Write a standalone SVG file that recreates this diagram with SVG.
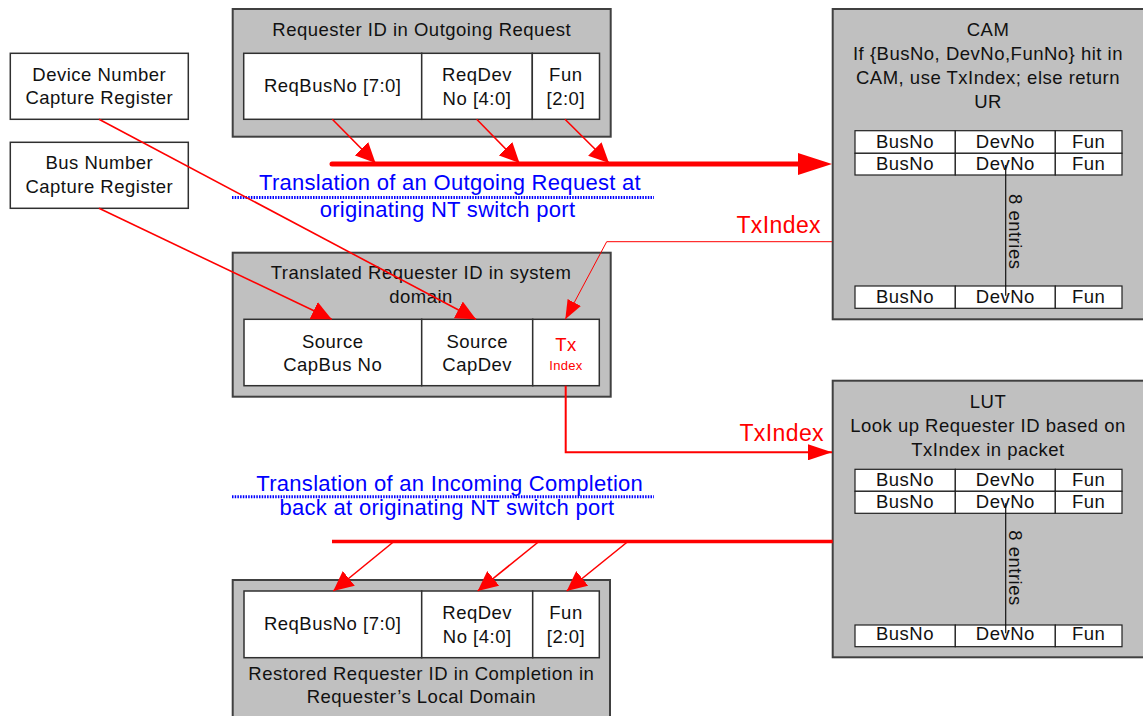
<svg xmlns="http://www.w3.org/2000/svg" width="1143" height="716" viewBox="0 0 1143 716">
  <style>
    text { font-family: "Liberation Sans", Arial, sans-serif; font-size: 18.5px; letter-spacing: 0.5px; fill: #111111; text-anchor: middle; }
    .panel { fill: #c0c0c0; stroke: #404040; stroke-width: 2; }
    .cell { fill: #ffffff; stroke: #303030; stroke-width: 1.5; }
    .row { fill: #ffffff; stroke: #202020; stroke-width: 1.2; }
    .span { stroke: #111111; stroke-width: 1.2; }
    .blue { fill: #0000ff; font-size: 22px; letter-spacing: 0.3px; }
    .tx { fill: #ff0000; }
    .lbl { fill: #ff0000; font-size: 23px; letter-spacing: 0.4px; text-anchor: end; }
    .wire { fill: none; stroke: #ff0000; stroke-width: 1.6; }
    .dots { stroke: #0000ff; stroke-width: 3; stroke-dasharray: 1.5 1.2; }
  </style>
  <defs>
    <marker id="headBig" markerUnits="userSpaceOnUse" markerWidth="34" markerHeight="22" refX="0" refY="11" orient="auto">
      <path d="M0,0 L34,11 L0,22 Z" fill="#ff0000"/>
    </marker>
    <marker id="head" markerUnits="userSpaceOnUse" markerWidth="20" markerHeight="19" refX="20" refY="9.5" orient="auto">
      <path d="M0,0 L20,9.5 L0,19 Z" fill="#ff0000"/>
    </marker>
    <marker id="headTx" markerUnits="userSpaceOnUse" markerWidth="24" markerHeight="16" refX="24" refY="8" orient="auto">
      <path d="M0,0 L24,8 L0,16 Z" fill="#ff0000"/>
    </marker>
    <marker id="headThin" markerUnits="userSpaceOnUse" markerWidth="19" markerHeight="15" refX="19" refY="7.5" orient="auto">
      <path d="M0,0 L19,7.5 L0,15 Z" fill="#ff0000"/>
    </marker>
  </defs>

  <!-- capture registers -->
  <g id="dev-capture-reg">
    <rect class="cell" x="10.3" y="53.3" width="178" height="66"/>
    <text x="99.3" y="80.7">Device Number</text>
    <text x="99.3" y="104.3">Capture Register</text>
  </g>
  <g id="bus-capture-reg">
    <rect class="cell" x="10.3" y="142.3" width="178" height="66"/>
    <text x="99.3" y="169.3">Bus Number</text>
    <text x="99.3" y="192.7">Capture Register</text>
  </g>

  <!-- outgoing request ID -->
  <g id="outgoing-req">
    <rect class="panel" x="232.7" y="9" width="378" height="127.7"/>
    <text x="421.7" y="36">Requester ID in Outgoing Request</text>
    <rect class="cell" x="243.7" y="53.3" width="178" height="66"/>
    <rect class="cell" x="421.7" y="53.3" width="110.6" height="66"/>
    <rect class="cell" x="532.3" y="53.3" width="67.2" height="66"/>
    <text x="332.7" y="92">ReqBusNo [7:0]</text>
    <text x="477" y="81">ReqDev</text>
    <text x="477" y="104.5">No [4:0]</text>
    <text x="565.8" y="81">Fun</text>
    <text x="565.8" y="104.5">[2:0]</text>
  </g>

  <!-- translated ID -->
  <g id="translated-req">
    <rect class="panel" x="232.7" y="252.7" width="378" height="144"/>
    <text x="421" y="279.3">Translated Requester ID in system</text>
    <text x="421" y="302.7">domain</text>
    <rect class="cell" x="244" y="319.3" width="177.7" height="66.4"/>
    <rect class="cell" x="421.7" y="319.3" width="111" height="66.4"/>
    <rect class="cell" x="532.7" y="319.3" width="66.6" height="66.4"/>
    <text x="332.7" y="348.3">Source</text>
    <text x="332.7" y="371">CapBus No</text>
    <text x="477.2" y="348.3">Source</text>
    <text x="477.2" y="371">CapDev</text>
    <text class="tx" x="566" y="351">Tx</text>
    <text class="tx" x="566" y="370" style="font-size:13px;letter-spacing:0.3px">Index</text>
  </g>

  <!-- restored ID -->
  <g id="restored-req">
    <rect class="panel" x="232.7" y="580" width="377.3" height="145"/>
    <rect class="cell" x="244" y="591" width="177.7" height="66.7"/>
    <rect class="cell" x="421.7" y="591" width="111" height="66.7"/>
    <rect class="cell" x="532.7" y="591" width="66.6" height="66.7"/>
    <text x="332.7" y="630">ReqBusNo [7:0]</text>
    <text x="477.2" y="619.3">ReqDev</text>
    <text x="477.2" y="643.3">No [4:0]</text>
    <text x="566" y="619.3">Fun</text>
    <text x="566" y="643.3">[2:0]</text>
    <text x="421.3" y="680">Restored Requester ID in Completion in</text>
    <text x="421.3" y="702.7">Requester’s Local Domain</text>
  </g>

  <!-- CAM -->
  <g id="cam">
    <rect class="panel" x="832.7" y="9" width="320" height="310.3"/>
    <text x="988" y="36">CAM</text>
    <text x="988" y="60">If {BusNo, DevNo,FunNo} hit in</text>
    <text x="988" y="84">CAM, use TxIndex; else return</text>
    <text x="988" y="107.5">UR</text>
    <rect class="row" x="855" y="130.7" width="100.3" height="22.6"/>
    <rect class="row" x="955.3" y="130.7" width="100" height="22.6"/>
    <rect class="row" x="1055.3" y="130.7" width="66.7" height="22.6"/>
    <rect class="row" x="855" y="153.3" width="100.3" height="21.7"/>
    <rect class="row" x="955.3" y="153.3" width="100" height="21.7"/>
    <rect class="row" x="1055.3" y="153.3" width="66.7" height="21.7"/>
    <rect class="row" x="855" y="286" width="100.3" height="22.3"/>
    <rect class="row" x="955.3" y="286" width="100" height="22.3"/>
    <rect class="row" x="1055.3" y="286" width="66.7" height="22.3"/>
    <text x="905" y="148.3">BusNo</text>
    <text x="1005.3" y="148.3">DevNo</text>
    <text x="1088.6" y="148.3">Fun</text>
    <text x="905" y="170">BusNo</text>
    <text x="1005.3" y="170">DevNo</text>
    <text x="1088.6" y="170">Fun</text>
    <text x="905" y="302.7">BusNo</text>
    <text x="1005.3" y="302.7">DevNo</text>
    <text x="1088.6" y="302.7">Fun</text>
    <line class="span" x1="1005.7" y1="165" x2="1005.7" y2="295.7"/>
    <text transform="translate(1008.5,231.7) rotate(90)">8 entries</text>
  </g>

  <!-- LUT -->
  <g id="lut">
    <rect class="panel" x="832.7" y="380.7" width="320" height="276.6"/>
    <text x="988" y="408.3">LUT</text>
    <text x="988" y="432">Look up Requester ID based on</text>
    <text x="988" y="456">TxIndex in packet</text>
    <rect class="row" x="855" y="469.3" width="100.3" height="22"/>
    <rect class="row" x="955.3" y="469.3" width="100" height="22"/>
    <rect class="row" x="1055.3" y="469.3" width="66.7" height="22"/>
    <rect class="row" x="855" y="491.3" width="100.3" height="22"/>
    <rect class="row" x="955.3" y="491.3" width="100" height="22"/>
    <rect class="row" x="1055.3" y="491.3" width="66.7" height="22"/>
    <rect class="row" x="855" y="625" width="100.3" height="21.7"/>
    <rect class="row" x="955.3" y="625" width="100" height="21.7"/>
    <rect class="row" x="1055.3" y="625" width="66.7" height="21.7"/>
    <text x="905" y="486">BusNo</text>
    <text x="1005.3" y="486">DevNo</text>
    <text x="1088.6" y="486">Fun</text>
    <text x="905" y="508">BusNo</text>
    <text x="1005.3" y="508">DevNo</text>
    <text x="1088.6" y="508">Fun</text>
    <text x="905" y="640">BusNo</text>
    <text x="1005.3" y="640">DevNo</text>
    <text x="1088.6" y="640">Fun</text>
    <line class="span" x1="1005.7" y1="503.3" x2="1005.7" y2="633.3"/>
    <text transform="translate(1008.5,568) rotate(90)">8 entries</text>
  </g>

  <!-- captions -->
  <g id="caption-outgoing">
    <text class="blue" x="450" y="190">Translation of an Outgoing Request at</text>
    <line class="dots" x1="232" y1="197.5" x2="654" y2="197.5"/>
    <text class="blue" x="447.5" y="217">originating NT switch port</text>
  </g>
  <g id="caption-incoming">
    <text class="blue" x="449.7" y="490.5">Translation of an Incoming Completion</text>
    <line class="dots" x1="232" y1="496.7" x2="654" y2="496.7"/>
    <text class="blue" x="447" y="515">back at originating NT switch port</text>
  </g>

  <!-- connectors -->
  <g id="connectors">
    <path d="M332,164 L798,164" fill="none" stroke="#ff0000" stroke-width="5" stroke-linecap="round" marker-end="url(#headBig)"/>
    <path class="wire" d="M332.3,119.3 L375.5,163" marker-end="url(#head)"/>
    <path class="wire" d="M476.7,119.3 L519.5,163" marker-end="url(#head)"/>
    <path class="wire" d="M565,119.3 L609,163" marker-end="url(#head)"/>

    <path class="wire" d="M99,119.3 L476,319.3" marker-end="url(#head)"/>
    <path class="wire" d="M99,208.3 L331.7,319.3" marker-end="url(#head)"/>

    <path d="M832,241.7 L606.7,241.7 L565.3,319.3" fill="none" stroke="#ff0000" stroke-width="1" marker-end="url(#headThin)"/>
    <text class="lbl" x="821" y="233.3">TxIndex</text>

    <path d="M565.7,385.7 L565.7,452.3 L832,452.3" fill="none" stroke="#ff0000" stroke-width="2" marker-end="url(#headTx)"/>
    <text class="lbl" x="824" y="440.7">TxIndex</text>

    <path d="M332,541.5 L832.7,541.5" fill="none" stroke="#ff0000" stroke-width="3.3"/>
    <path class="wire" d="M393.3,542 L333.3,591" marker-end="url(#head)"/>
    <path class="wire" d="M538.3,542 L477.7,591" marker-end="url(#head)"/>
    <path class="wire" d="M627.3,542 L566.7,591" marker-end="url(#head)"/>
  </g>
</svg>
